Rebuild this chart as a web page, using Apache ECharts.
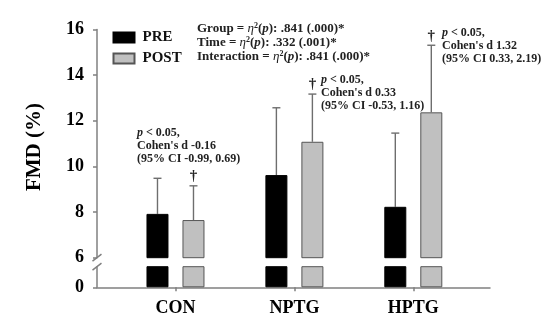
<!DOCTYPE html>
<html>
<head>
<meta charset="utf-8">
<script src="https://cdn.jsdelivr.net/npm/echarts@6/dist/echarts.min.js"></script>
<style>html,body{margin:0;padding:0;background:#fff}#c{width:550px;height:327px}</style>
</head>
<body>
<div id="c"></div>
<script>
// ---- data ----
const categories = ['CON', 'NPTG', 'HPTG'];
const preMean = [7.92, 9.62, 8.23];
const preUpper = [9.48, 12.57, 11.46];
const postMean = [7.65, 11.08, 12.37];
const postUpper = [9.15, 13.17, 15.31];
const seriesNames = ['PRE', 'POST'];
const yTopMin = 6, yTopMax = 16, yTopStep = 2;
const yBottomLabel = 0;
const statLines = [
  ['Group', '.841 (.000)*'],
  ['Time', '.332 (.001)*'],
  ['Interaction', '.841 (.000)*']
];
const effectNotes = [
  ['p < 0.05,', "Cohen's d -0.16", '(95% CI -0.99, 0.69)'],
  ['p < 0.05,', "Cohen's d 0.33", '(95% CI -0.53, 1.16)'],
  ['p < 0.05,', "Cohen's d 1.32", '(95% CI 0.33, 2.19)']
];

// ---- style ----
const FONT = "'Liberation Serif','Times New Roman',serif";
const AXIS_COLOR = '#808080';
const BAR_W = 22, BAR_GAP = 14;
const OFF = (BAR_W + BAR_GAP) / 2;
const PRE_STYLE = { color: '#000000', borderColor: '#000000', borderWidth: 1 };
const POST_STYLE = { color: '#c0c0c0', borderColor: '#555555', borderWidth: 1 };
const X_MIN = -0.66, X_MAX = 2.645;

const chart = echarts.init(document.getElementById('c'), null, { renderer: 'canvas' });

const idx = categories.map((_, i) => i);
const pts = arr => arr.map((v, i) => [i, v]);
const errPts = (m, u) => m.map((v, i) => [i, v, u[i]]);

function errItem(sign, dagger) {
  return function (params, api) {
    const x = api.value(0);
    const p0 = api.coord([x, api.value(1)]);
    const p1 = api.coord([x, api.value(2)]);
    const cx = p0[0] + sign * OFF;
    const lineStyle = { stroke: '#6e6e6e', lineWidth: 1.4 };
    const children = [
      { type: 'line', shape: { x1: cx, y1: p0[1], x2: cx, y2: p1[1] }, style: lineStyle },
      { type: 'line', shape: { x1: cx - 4, y1: p1[1], x2: cx + 4, y2: p1[1] }, style: lineStyle }
    ];
    if (dagger) {
      children.push({ type: 'text', x: cx, y: p1[1] - 2,
        style: { text: '†', fill: '#222', font: 'bold 15px ' + FONT, align: 'center', verticalAlign: 'bottom' } });
    }
    return { type: 'group', children };
  };
}

const xAxisCommon = { type: 'value', min: X_MIN, max: X_MAX, splitLine: { show: false } };

chart.setOption({
  animation: false,
  backgroundColor: '#fff',
  grid: [
    { left: 97, right: 60, top: 29.5, height: 228.2 },
    { left: 97, right: 60, top: 266.7, height: 20.6 }
  ],
  legend: {
    data: seriesNames,
    orient: 'vertical', left: 112.5, top: 30, padding: 0,
    icon: 'rect', itemWidth: 21, itemHeight: 10, itemGap: 6,
    textStyle: { fontFamily: FONT, fontWeight: 'bold', fontSize: 15, color: '#111', lineHeight: 14, padding: [0, 0, 0, 3] }
  },
  xAxis: [
    Object.assign({ gridIndex: 0, show: false }, xAxisCommon),
    Object.assign({ gridIndex: 1,
      axisLine: { show: true, onZero: false, lineStyle: { color: AXIS_COLOR, width: 1.5 } },
      axisTick: { show: true, length: 4, customValues: idx, lineStyle: { color: AXIS_COLOR, width: 1.5 } },
      axisLabel: { customValues: idx, margin: 12, formatter: v => categories[Math.round(v)] || '',
        fontFamily: FONT, fontWeight: 'bold', fontSize: 18, color: '#000' }
    }, xAxisCommon)
  ],
  yAxis: [
    { type: 'value', gridIndex: 0, min: yTopMin, max: yTopMax, interval: yTopStep,
      splitLine: { show: false },
      axisLine: { show: true, onZero: false, lineStyle: { color: AXIS_COLOR, width: 1.5 } },
      axisTick: { show: true, length: 4, lineStyle: { color: AXIS_COLOR, width: 1.5 } },
      axisLabel: { margin: 13, fontFamily: FONT, fontWeight: 'bold', fontSize: 18, color: '#000' } },
    { type: 'value', gridIndex: 1, min: 0, max: 0.9,
      splitLine: { show: false },
      axisLine: { show: true, onZero: false, lineStyle: { color: AXIS_COLOR, width: 1.5 } },
      axisTick: { show: true, length: 4, customValues: [yBottomLabel], lineStyle: { color: AXIS_COLOR, width: 1.5 } },
      axisLabel: { customValues: [yBottomLabel], margin: 13, fontFamily: FONT, fontWeight: 'bold', fontSize: 18, color: '#000' } }
  ],
  series: [
    { name: seriesNames[0], type: 'bar', xAxisIndex: 0, yAxisIndex: 0, data: pts(preMean),
      barWidth: BAR_W, barGap: (BAR_GAP / BAR_W * 100) + '%', itemStyle: PRE_STYLE, clip: true },
    { name: seriesNames[1], type: 'bar', xAxisIndex: 0, yAxisIndex: 0, data: pts(postMean),
      barWidth: BAR_W, barGap: (BAR_GAP / BAR_W * 100) + '%', itemStyle: POST_STYLE, clip: true },
    { name: seriesNames[0], type: 'bar', xAxisIndex: 1, yAxisIndex: 1, data: pts(preMean),
      barWidth: BAR_W, barGap: (BAR_GAP / BAR_W * 100) + '%', itemStyle: PRE_STYLE, clip: true },
    { name: seriesNames[1], type: 'bar', xAxisIndex: 1, yAxisIndex: 1, data: pts(postMean),
      barWidth: BAR_W, barGap: (BAR_GAP / BAR_W * 100) + '%', itemStyle: POST_STYLE, clip: true },
    { type: 'custom', xAxisIndex: 0, yAxisIndex: 0, data: errPts(preMean, preUpper),
      encode: { x: 0, y: [1, 2] }, renderItem: errItem(-1, false), z: 1 },
    { type: 'custom', xAxisIndex: 0, yAxisIndex: 0, data: errPts(postMean, postUpper),
      encode: { x: 0, y: [1, 2] }, renderItem: errItem(1, true), z: 1 }
  ]
});

// ---- decorations: axis break, texts ----
const up = chart.convertToPixel({ xAxisIndex: 0, yAxisIndex: 0 }, [X_MIN, yTopMin]);
const lo = chart.convertToPixel({ xAxisIndex: 1, yAxisIndex: 1 }, [X_MIN, 0.9]);
const slash = (c) => ({ type: 'line', shape: { x1: c[0] - 4.5, y1: c[1] + 3.5, x2: c[0] + 4.5, y2: c[1] - 3.5 },
  style: { stroke: AXIS_COLOR, lineWidth: 1.5 }, z: 100 });

const rich = {
  b: { fontFamily: FONT, fontWeight: 'bold', fontSize: 12, fill: '#222', lineHeight: 13 },
  i: { fontFamily: FONT, fontWeight: 'bold', fontStyle: 'italic', fontSize: 12, fill: '#222', lineHeight: 13 }
};
function noteText(lines) {
  const first = lines[0].replace(/^p/, '');
  return '{i|p}{b|' + first + '}\n{b|' + lines[1] + '}\n{b|' + lines[2] + '}';
}
const statRich = {
  b: { fontFamily: FONT, fontWeight: 'bold', fontSize: 13, fill: '#222', lineHeight: 14 },
  i: { fontFamily: FONT, fontWeight: 'bold', fontStyle: 'italic', fontSize: 13, fill: '#222', lineHeight: 14 },
  eta: { fontFamily: FONT, fontStyle: 'italic', fontSize: 13, fill: '#222', lineHeight: 14 },
  sup: { fontFamily: FONT, fontWeight: 'bold', fontSize: 8, fill: '#222', lineHeight: 14, verticalAlign: 'top', padding: [0, 0, 6, 0] }
};
const statText = statLines.map(l => '{b|' + l[0] + ' = }{eta|η}{sup|2}{b|(}{i|p}{b|): ' + l[1] + '}').join('\n');

const notePos = [[137, 126.5], [321, 73.5], [442, 26.5]];

chart.setOption({
  graphic: [
    slash(up), slash(lo),
    { type: 'text', x: 35, y: 147, rotation: Math.PI / 2,
      style: { text: 'FMD (%)', font: 'bold 21px ' + FONT, fill: '#000', align: 'center', verticalAlign: 'middle' } },
    { type: 'text', x: 197, y: 22, style: { text: statText, rich: statRich } }
  ].concat(effectNotes.map((n, i) => ({ type: 'text', x: notePos[i][0], y: notePos[i][1],
    style: { text: noteText(n), rich } })))
});
</script>
</body>
</html>
